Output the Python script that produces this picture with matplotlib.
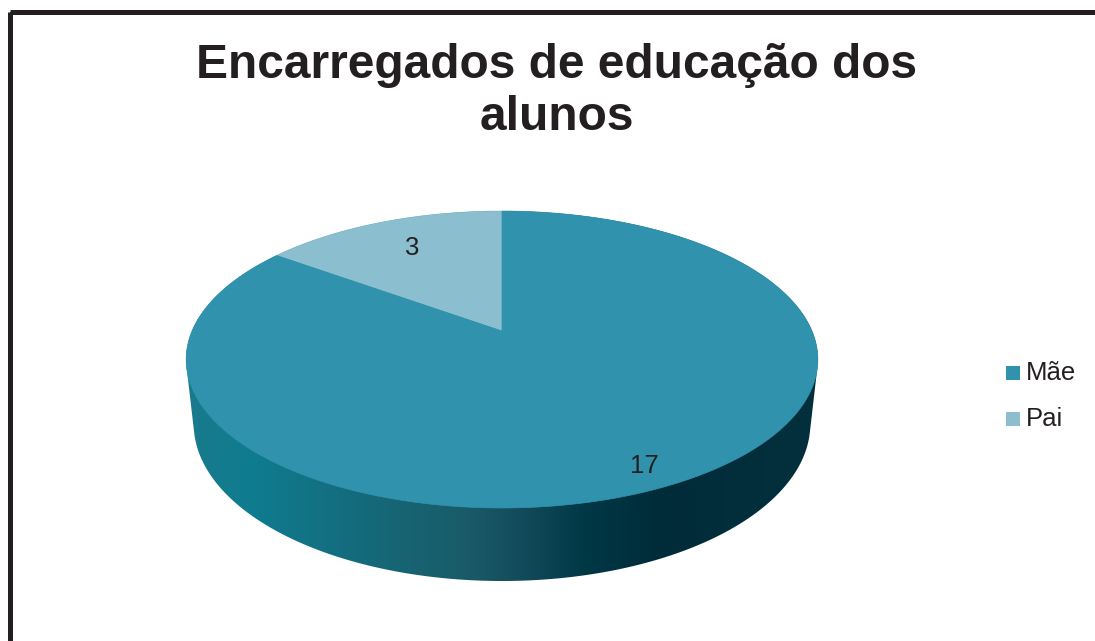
import numpy as np
import matplotlib
matplotlib.use("Agg")
import matplotlib.pyplot as plt
from matplotlib.patches import Polygon, Rectangle
from matplotlib.colors import LinearSegmentedColormap

# ---- data ----
categories = ["Mãe", "Pai"]
values = [17, 3]
colors = ["#3192AD", "#8BBFD0"]
title_lines = ["Encarregados de educação dos", "alunos"]

plt.rcParams['font.family'] = ['Liberation Sans', 'DejaVu Sans']

W, H = 1095, 641
fig = plt.figure(figsize=(W / 100, H / 100), dpi=100)
ax = fig.add_axes([0, 0, 1, 1])
ax.set_xlim(0, W)
ax.set_ylim(H, 0)
ax.axis('off')

# outer frame (only top and left visible)
ax.add_patch(Rectangle((9.5, 11.5), W + 20, H + 20, fill=False,
                       lw=3.6, ec="#231F20", zorder=1))

# ---- perspective projection of a unit-radius pie ----
CX, CY = 502, 331
f = 1432.0
dist = 4.62
phi = np.arcsin(143.0 / 310.0)
thick = 0.236


def proj(theta_deg, Y=0.0, r=1.0):
    th = np.radians(theta_deg)
    X = r * np.cos(th)
    Z = r * np.sin(th)
    xc = X
    yc = Y * np.cos(phi) + Z * np.sin(phi)
    zc = dist + Z * np.cos(phi) - Y * np.sin(phi)
    return CX + f * xc / zc, CY - f * yc / zc


# side: convex hull of top and bottom rims, filled with a gradient
ths = np.linspace(0, 360, 721)
tx, ty = proj(ths, 0.0)
bx, by = proj(ths, -thick)
pts = np.vstack([np.column_stack([tx, ty]), np.column_stack([bx, by])])


def hull(p):
    p = sorted(map(tuple, p))
    def cross(o, a, b):
        return (a[0]-o[0])*(b[1]-o[1]) - (a[1]-o[1])*(b[0]-o[0])
    lo, up = [], []
    for q in p:
        while len(lo) >= 2 and cross(lo[-2], lo[-1], q) <= 0:
            lo.pop()
        lo.append(q)
    for q in reversed(p):
        while len(up) >= 2 and cross(up[-2], up[-1], q) <= 0:
            up.pop()
        up.append(q)
    return np.array(lo[:-1] + up[:-1])


side_poly = Polygon(hull(pts), closed=True, fc="none", ec="none")
ax.add_patch(side_poly)
stops = [(0.0, "#1A7A8C"), (0.1, "#0F7C90"), (0.3, "#156878"),
         (0.45, "#1A5A68"), (0.56, "#0F4656"), (0.63, "#003846"),
         (0.76, "#012B38"), (1.0, "#04303D")]
cmap = LinearSegmentedColormap.from_list("side", stops)
xmin, xmax = pts[:, 0].min(), pts[:, 0].max()
ymin, ymax = pts[:, 1].min(), pts[:, 1].max()
grad = np.linspace(0, 1, 512)[None, :]
im = ax.imshow(grad, cmap=cmap, aspect='auto',
               extent=(xmin, xmax, ymax, ymin), zorder=2)
im.set_clip_path(side_poly)

# top wedges: Pai starts at 12 o'clock going counter-clockwise,
# Mãe fills the rest
total = sum(values)
start = 90.0
order = [1, 0]
angles = {}
a0 = start
for i in order:
    span = 360.0 * values[i] / total
    angles[i] = (a0, a0 + span)
    a0 += span

for i in order:
    s, e = angles[i]
    t = np.linspace(s, e, 400)
    px, py = proj(t, 0.0)
    verts = np.vstack([[CX, CY], np.column_stack([px, py])])
    ax.add_patch(Polygon(verts, closed=True, fc=colors[i], ec=colors[i],
                         lw=0.5, zorder=3))

# data labels
label_r = {0: 0.86, 1: 0.72}
label_dy = {0: 7, 1: -1}
for i in order:
    s, e = angles[i]
    mx, my = proj((s + e) / 2, 0.0, label_r[i])
    ax.text(mx, my + label_dy[i], str(values[i]), fontsize=18.5,
            color="#231F20", ha='center', va='center', zorder=4)

# title
for k, line in enumerate(title_lines):
    ax.text(557, 78 + 52 * k, line, fontsize=34.5, fontweight='bold',
            color="#231F20", ha='center', va='baseline', zorder=4)

# legend
for k, (cat, col) in enumerate(zip(categories, colors)):
    y = 373 + 46 * k
    ax.add_patch(Rectangle((1006, y - 7), 14, 14, fc=col, ec='none', zorder=4))
    ax.text(1026, y + 0.5, cat, fontsize=18.5, color="#231F20", ha='left',
            va='center', zorder=4)

fig.savefig("out.png", dpi=100)
